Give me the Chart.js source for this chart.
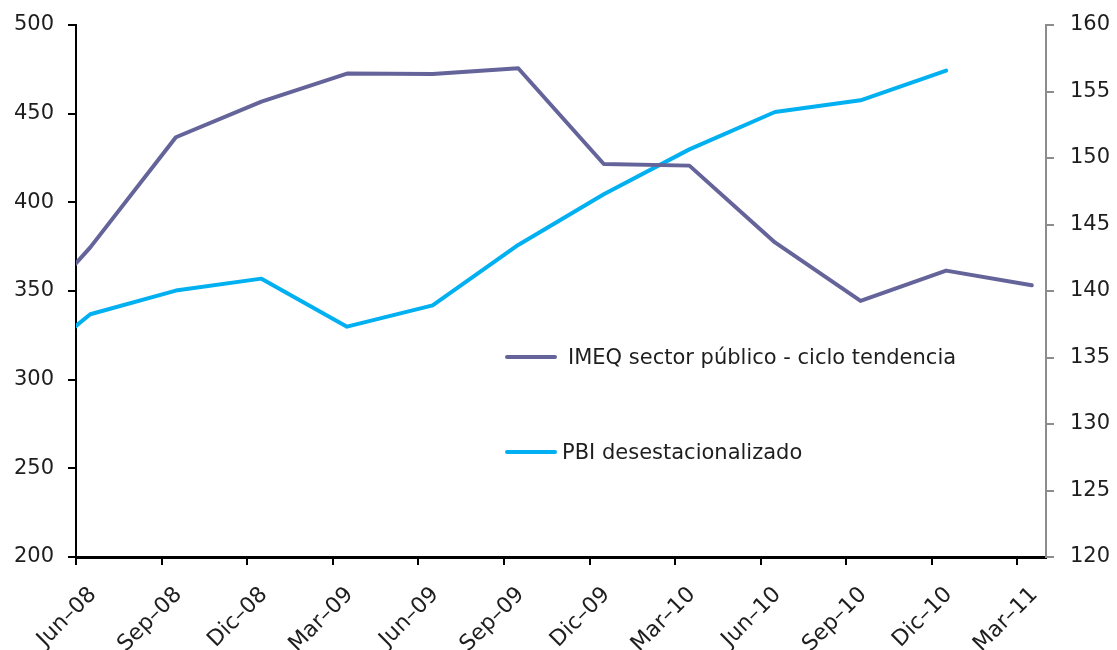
<!DOCTYPE html>
<html>
<head>
<meta charset="utf-8">
<script src="https://cdn.jsdelivr.net/npm/chart.js@4.4.1/dist/chart.umd.min.js"></script>
<style>
  html, body { margin: 0; padding: 0; background: #fff; }
  #wrap { position: relative; width: 1117px; height: 650px; }
  canvas { display: block; }
  .leg { position: absolute; display: flex; align-items: center; white-space: nowrap;
         font-family: 'DejaVu Sans', sans-serif; font-size: 21px; color: #1e1e1e; line-height: 1; }
  .leg .sw { display: inline-block; width: 52px; height: 4px; border-radius: 2px; }
</style>
</head>
<body>
<div id="wrap">
  <canvas id="c" width="1117" height="650"></canvas>
</div>
<script>
// Quarterly observations (first quarter lies just before the visible axis start)
const quarters = ['Mar-08','Jun-08','Sep-08','Dic-08','Mar-09','Jun-09','Sep-09','Dic-09','Mar-10','Jun-10','Sep-10','Dic-10','Mar-11'];
const imeqPublico = [320.6, 374.6, 436.7, 456.8, 472.6, 472.4, 475.6, 421.6, 420.7, 377.4, 344.4, 361.5, 353.2];
const pbiDesest   = [133.0, 138.25, 140.03, 140.93, 137.32, 138.92, 143.46, 147.27, 150.65, 153.46, 154.34, 156.57, null];

// Axis tick labels (one every three months)
const xTickLabels = ['Jun–08','Sep–08','Dic–08','Mar–09','Jun–09','Sep–09','Dic–09','Mar–10','Jun–10','Sep–10','Dic–10','Mar–11'];
const leftTicks  = [200, 250, 300, 350, 400, 450, 500];
const rightTicks = [120, 125, 130, 135, 140, 145, 150, 155, 160];

const seriesNames = ['IMEQ sector público - ciclo tendencia', 'PBI desestacionalizado'];
const colors = ['#64649a', '#00b0f0'];

// x position in months counted from the start of Jun-08; each quarter sits mid-month
const monthPos = i => (i - 1) * 3 + 0.5;
const toPoints = arr => arr.map((v, i) => ({ x: monthPos(i), y: v }));

// compact line height keeps the vertical scales from pushing the plot top down
const FONT_Y = { family: "'DejaVu Sans', sans-serif", size: 21, lineHeight: 0.8 };
const FONT_X = { family: "'DejaVu Sans', sans-serif", size: 22 };
const TEXT = '#1e1e1e';

const chart = new Chart(document.getElementById('c'), {
  type: 'line',
  data: {
    datasets: [
      { label: seriesNames[0], data: toPoints(imeqPublico), yAxisID: 'y',
        borderColor: colors[0], borderWidth: 4, pointRadius: 0,
        borderJoinStyle: 'round', borderCapStyle: 'round', tension: 0 },
      { label: seriesNames[1], data: toPoints(pbiDesest), yAxisID: 'y1',
        borderColor: colors[1], borderWidth: 4, pointRadius: 0,
        borderJoinStyle: 'round', borderCapStyle: 'round', tension: 0, spanGaps: false }
    ]
  },
  options: {
    responsive: false,
    animation: false,
    devicePixelRatio: 1,
    layout: { padding: { top: 25, left: 0, right: 0, bottom: 0 } },
    plugins: { legend: { display: false }, tooltip: { enabled: false } },
    scales: {
      x: {
        type: 'linear', min: 0, max: 34,
        afterBuildTicks: s => { s.ticks = xTickLabels.map((_, k) => ({ value: k * 3 })); },
        afterFit: s => { s.height = 93; },
        ticks: {
          autoSkip: false, minRotation: 45, maxRotation: 45,
          callback: v => xTickLabels[v / 3],
          font: FONT_X, color: TEXT, padding: 17, labelOffset: 17
        },
        grid: { drawOnChartArea: false, drawTicks: true, tickLength: 8, color: '#000', lineWidth: 2 },
        border: { display: true, color: '#000', width: 3 }
      },
      y: {
        position: 'left', min: 200, max: 500,
        afterBuildTicks: s => { s.ticks = leftTicks.map(v => ({ value: v })); },
        afterFit: s => { s.width = 76; },
        ticks: { font: FONT_Y, color: TEXT, padding: 14 },
        grid: { drawOnChartArea: false, drawTicks: true, tickLength: 8, color: '#000', lineWidth: 2 },
        border: { display: true, color: '#000', width: 2 }
      },
      y1: {
        position: 'right', min: 120, max: 160,
        afterBuildTicks: s => { s.ticks = rightTicks.map(v => ({ value: v })); },
        afterFit: s => { s.width = 71; },
        ticks: { font: FONT_Y, color: TEXT, padding: 16 },
        grid: { drawOnChartArea: false, drawTicks: true, tickLength: 8, color: '#8c8c8c', lineWidth: 2 },
        border: { display: true, color: '#8c8c8c', width: 2 }
      }
    }
  }
});

// Legend placed inside the plot area
const legendSpots = [
  { left: 505, top: 357, gap: 11 },
  { left: 505, top: 452, gap: 5 }
];
const wrap = document.getElementById('wrap');
seriesNames.forEach((name, i) => {
  const d = document.createElement('div');
  d.className = 'leg';
  d.style.left = legendSpots[i].left + 'px';
  d.style.top = (legendSpots[i].top - 12) + 'px';
  d.style.height = '24px';
  const sw = document.createElement('span');
  sw.className = 'sw';
  sw.style.background = colors[i];
  sw.style.marginRight = legendSpots[i].gap + 'px';
  const t = document.createElement('span');
  t.textContent = name;
  d.appendChild(sw);
  d.appendChild(t);
  wrap.appendChild(d);
});
</script>
</body>
</html>
